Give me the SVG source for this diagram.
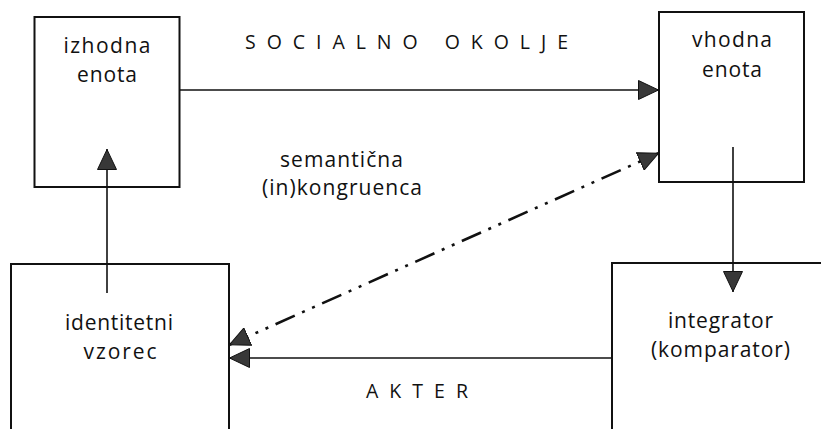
<svg xmlns="http://www.w3.org/2000/svg" width="821" height="429" viewBox="0 0 821 429">
<style>
.box{fill:none;stroke:#111;stroke-width:2}
.conn{fill:none;stroke:#111;stroke-width:1.6}
.dd{fill:none;stroke:#111;stroke-width:2.6;stroke-dasharray:21 8 3 8 3 8}
text{font-family:"Open Sans","Noto Sans",sans-serif;font-size:21px;fill:#111;text-anchor:middle}
.sp{font-size:19.5px;text-anchor:start}
</style>
<defs>
<marker id="ah" viewBox="0 0 21 20" refX="21" refY="10" markerWidth="21" markerHeight="20" markerUnits="userSpaceOnUse" orient="auto-start-reverse">
<path d="M0.5,0.5 L20.5,10 L0.5,19.5 Z" fill="#383838" stroke="#111" stroke-width="1"/>
</marker>
</defs>
<rect width="821" height="429" fill="#fff"/>
<g id="izhodna">
<rect class="box" x="34.5" y="17" width="145" height="170"/>
<text x="107" y="53" textLength="87" lengthAdjust="spacing">izhodna</text>
<text x="107" y="82" textLength="60" lengthAdjust="spacing">enota</text>
</g>
<g id="vhodna">
<rect class="box" x="659" y="12" width="145" height="170"/>
<text x="732" y="47" textLength="80" lengthAdjust="spacing">vhodna</text>
<text x="732" y="77" textLength="60" lengthAdjust="spacing">enota</text>
</g>
<g id="identitetni">
<path class="box" d="M11,432 V264 H229 V432"/>
<text x="119" y="330" textLength="108" lengthAdjust="spacing">identitetni</text>
<text x="120" y="359" textLength="73" lengthAdjust="spacing">vzorec</text>
</g>
<g id="integrator">
<path class="box" d="M612,432 V263 H824"/>
<text x="720.5" y="328" textLength="105" lengthAdjust="spacing">integrator</text>
<text x="720.5" y="357" textLength="139" lengthAdjust="spacing">(komparator)</text>
</g>
<g id="labels">
<text class="sp" x="245" y="49" textLength="323" lengthAdjust="spacing">SOCIALNO OKOLJE</text>
<text class="sp" x="366" y="398" textLength="102" lengthAdjust="spacing">AKTER</text>
<text x="341.5" y="167" textLength="123" lengthAdjust="spacing">semantična</text>
<text x="342" y="195" textLength="160" lengthAdjust="spacing">(in)kongruenca</text>
</g>
<g id="connectors">
<line class="conn" x1="180" y1="90" x2="659" y2="90" marker-end="url(#ah)"/>
<line class="conn" x1="733" y1="147" x2="733" y2="292" marker-end="url(#ah)"/>
<line class="conn" x1="107" y1="293" x2="107" y2="149" marker-end="url(#ah)"/>
<line class="conn" x1="612" y1="358" x2="229" y2="358" marker-end="url(#ah)"/>
<line class="dd" x1="229" y1="345" x2="659" y2="153" marker-start="url(#ah)" marker-end="url(#ah)"/>
</g>
</svg>
